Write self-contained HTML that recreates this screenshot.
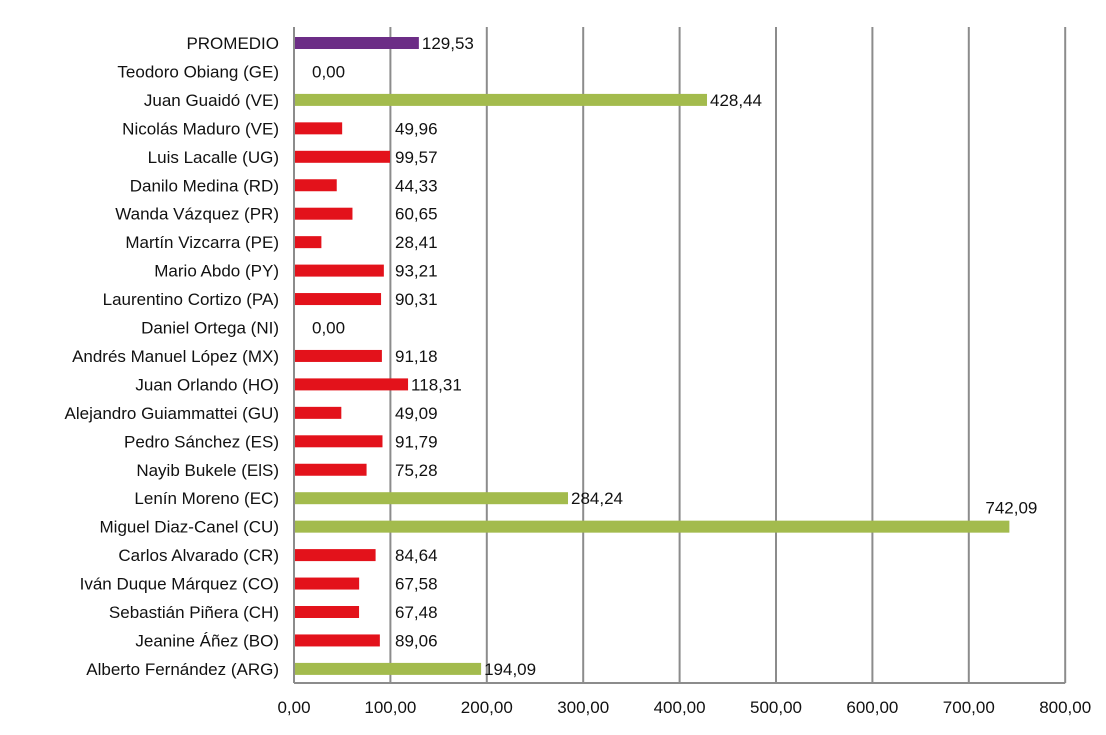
<!DOCTYPE html>
<html><head><meta charset="utf-8"><style>
body{margin:0;background:#fff;}
svg{display:block;font-family:"Liberation Sans",sans-serif;}
</style></head><body>
<svg id="chart" width="1106" height="735" viewBox="0 0 1106 735"></svg>
<script>
const categories=["PROMEDIO","Teodoro Obiang (GE)","Juan Guaidó (VE)","Nicolás Maduro (VE)","Luis Lacalle (UG)","Danilo Medina (RD)","Wanda Vázquez (PR)","Martín Vizcarra (PE)","Mario Abdo (PY)","Laurentino Cortizo (PA)","Daniel Ortega (NI)","Andrés Manuel López  (MX)","Juan Orlando (HO)","Alejandro Guiammattei (GU)","Pedro Sánchez (ES)","Nayib Bukele (ElS)","Lenín Moreno (EC)","Miguel Diaz-Canel (CU)","Carlos Alvarado (CR)","Iván Duque Márquez (CO)","Sebastián Piñera (CH)","Jeanine Áñez (BO)","Alberto Fernández (ARG)"];
const values=[129.53,0,428.44,49.96,99.57,44.33,60.65,28.41,93.21,90.31,0,91.18,118.31,49.09,91.79,75.28,284.24,742.09,84.64,67.58,67.48,89.06,194.09];
const groups=["avg","red","green","red","red","red","red","red","red","red","red","red","red","red","red","red","green","green","red","red","red","red","green"];
const ticks=[0,100,200,300,400,500,600,700,800];
const colors={avg:"#6c2d86",red:"#e3121b",green:"#a3bb4d"};
const NS="http://www.w3.org/2000/svg";
const svg=document.getElementById('chart');
const x0=294,pxPer=96.4/100,yTop=27,yBot=683;
const xs=v=>x0+v*pxPer;
const ys=i=>43+i*28.45;
const fmt=v=>v.toFixed(2).replace('.',',');
function mk(t,a){const e=document.createElementNS(NS,t);for(const k in a)e.setAttribute(k,a[k]);svg.appendChild(e);return e;}
ticks.forEach(t=>{
  const l=mk('line',{x1:xs(t),x2:xs(t),y1:yTop,y2:yBot,stroke:'#8c8c8c','stroke-width':2});
  
  
  const tx=mk('text',{x:xs(t),y:713,'text-anchor':'middle','font-size':17,fill:'#111'});
  tx.textContent=fmt(t);
  
  
});
const ax=mk('line',{x1:x0,x2:xs(800),y1:yBot,y2:yBot,stroke:'#8c8c8c','stroke-width':2});


categories.forEach((c,i)=>{
  const y=ys(i);
  const lab=mk('text',{x:279,y:y+6,'text-anchor':'end','font-size':17,fill:'#111'});
  lab.textContent=c;
  
  
  const v=values[i];
  if(v>0){
    const r=mk('rect',{x:x0+1,y:y-6,width:xs(v)-x0-1,height:12,fill:colors[groups[i]]});
    
    
  }
  let lx,ly=y+6;
  if(v===0)lx=312;else lx=Math.max(xs(v)+3,395);
  if(xs(v)>950){lx=xs(v)-24;ly=y-13;}
  const vt=mk('text',{x:lx,y:ly,'font-size':17,fill:'#111'});
  vt.textContent=fmt(v);
  
  
});
</script>
</body></html>
